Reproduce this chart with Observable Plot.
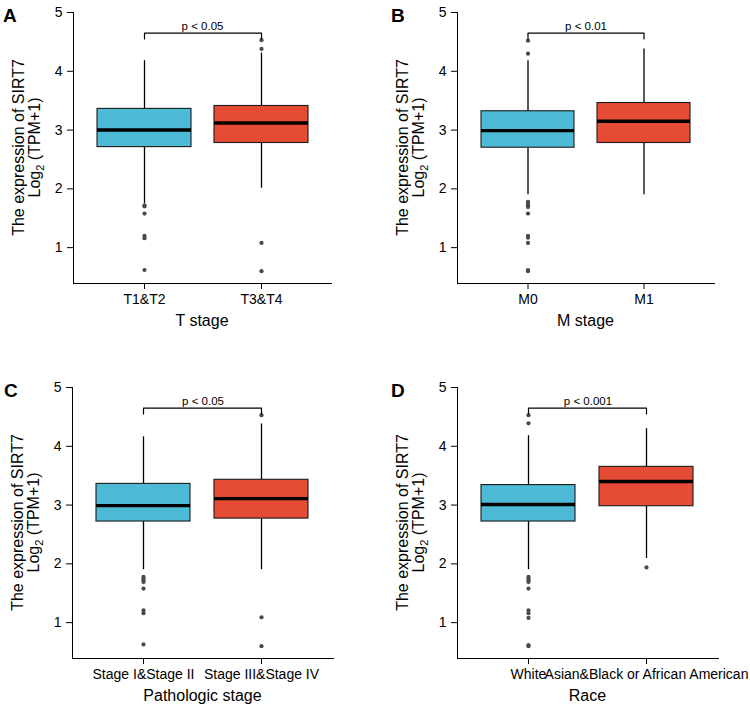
<!DOCTYPE html>
<html>
<head>
<meta charset="utf-8">
<script src="https://cdn.jsdelivr.net/npm/d3@7"></script>
<script src="https://cdn.jsdelivr.net/npm/@observablehq/plot@0.6"></script>
<style>
  body { margin: 0; background: #fff; }
  #root { position: relative; width: 750px; height: 706px; font-family: "Liberation Sans", Arial, sans-serif; }
  .panel { position: absolute; }
  .panel svg { overflow: visible; }
  .panel svg g[aria-label*="axis"] text { font-size: 14px; fill: #000; }
</style>
</head>
<body>
<div id="root"></div>
<script>
// ---------- Data ----------
const yTicks = [1, 2, 3, 4, 5];
const yDomain = [0.39, 5.0];
const groupColors = ["#4DBBD5", "#E64B35"];

// Panel A – T stage
const aGroups = ["T1&T2", "T3&T4"];
const aQ1 = [2.71, 2.78];
const aMedian = [3.00, 3.12];
const aQ3 = [3.36, 3.41];
const aLow = [1.75, 2.01];
const aHigh = [4.18, 4.31];
const aOutliers = [[1.72, 1.70, 1.58, 1.20, 1.16, 0.62], [4.53, 4.38, 1.08, 0.60]];
const aP = "p < 0.05";
const aTitle = "T stage";

// Panel B – M stage
const bGroups = ["M0", "M1"];
const bQ1 = [2.70, 2.78];
const bMedian = [2.99, 3.15];
const bQ3 = [3.32, 3.46];
const bLow = [1.90, 1.90];
const bHigh = [4.18, 4.38];
const bOutliers = [[4.52, 4.30, 1.78, 1.75, 1.72, 1.69, 1.58, 1.20, 1.17, 1.08, 0.62, 0.60], []];
const bP = "p < 0.01";
const bTitle = "M stage";

// Panel C – Pathologic stage
const cGroups = ["Stage I&Stage II", "Stage III&Stage IV"];
const cQ1 = [2.72, 2.77];
const cMedian = [2.99, 3.11];
const cQ3 = [3.36, 3.43];
const cLow = [1.90, 1.90];
const cHigh = [4.16, 4.38];
const cOutliers = [[1.78, 1.75, 1.72, 1.69, 1.58, 1.21, 1.16, 0.63], [4.53, 1.09, 0.60]];
const cP = "p < 0.05";
const cTitle = "Pathologic stage";

// Panel D – Race
const dGroups = ["White", "Asian&Black or African American"];
const dQ1 = [2.72, 2.98];
const dMedian = [3.01, 3.40];
const dQ3 = [3.34, 3.65];
const dLow = [1.90, 2.09];
const dHigh = [4.18, 4.30];
const dOutliers = [[4.53, 4.39, 1.78, 1.75, 1.72, 1.69, 1.58, 1.21, 1.16, 1.08, 0.62, 0.60], [1.94]];
const dP = "p < 0.001";
const dTitle = "Race";

// significance bracket levels (value units)
const bracketTop = 4.65;
const bracketTip = 4.55;

// ---------- Drawing ----------
const FONT = '"Liberation Sans", Arial, sans-serif';

function drawPanel(letter, groups, q1, med, q3, lo, hi, outliers, pText, xTitle, layout) {
  const boxes = groups.map((g, i) => ({group: g, q1: q1[i], med: med[i], q3: q3[i], lo: lo[i], hi: hi[i]}));
  const outs = groups.flatMap((g, i) => outliers[i].map(v => ({group: g, value: v})));
  const bracket = [
    {group: groups[0], y: bracketTip},
    {group: groups[0], y: bracketTop},
    {group: groups[1], y: bracketTop},
    {group: groups[1], y: bracketTip}
  ];

  const chart = Plot.plot({
    width: 375,
    height: layout.height,
    marginLeft: layout.ml,
    marginRight: layout.mr,
    marginTop: 12,
    marginBottom: layout.height - 283,
    style: {fontFamily: FONT, fontSize: "14px", color: "#000", background: "#fff"},
    x: {type: "band", domain: groups, padding: 0.2, tickSize: 6, tickPadding: 5, label: null, line: true},
    y: {domain: yDomain, ticks: yTicks, tickSize: 6, tickPadding: 5, label: null, line: true, tickFormat: d3.format("d")},
    color: {domain: groups, range: groupColors},
    marks: [
      Plot.ruleX(boxes, {x: "group", y1: "q3", y2: "hi", stroke: "#000", strokeWidth: 1.3}),
      Plot.ruleX(boxes, {x: "group", y1: "lo", y2: "q1", stroke: "#000", strokeWidth: 1.3}),
      Plot.barY(boxes, {x: "group", y1: "q1", y2: "q3", fill: "group", stroke: "#1a1a1a", strokeWidth: 1.1}),
      Plot.tickY(boxes, {x: "group", y: "med", stroke: "#000", strokeWidth: 3.4}),
      Plot.dot(outs, {x: "group", y: "value", r: 2.1, fill: "#4a4a4a", stroke: "none"}),
      Plot.line(bracket, {x: "group", y: "y", stroke: "#000", strokeWidth: 1.2}),
      Plot.text([pText], {y: [bracketTop], text: d => d, fontSize: 11.5, dy: -6.5, fill: "#000"})
    ]
  });

  const svg = d3.select(chart);
  const cy = (12 + 283) / 2;
  // panel letter
  svg.append("text")
    .attr("x", layout.letterX).attr("y", 22)
    .attr("text-anchor", "start")
    .attr("font-family", FONT).attr("font-size", 19).attr("font-weight", "bold")
    .attr("fill", "#000").text(letter);
  // y title line 1
  svg.append("text")
    .attr("transform", `translate(${layout.ml - 49.5},${cy}) rotate(-90)`)
    .attr("text-anchor", "middle").attr("font-family", FONT).attr("font-size", 16).attr("fill", "#000")
    .text("The expression of SIRT7");
  // y title line 2 with subscript
  const t2 = svg.append("text")
    .attr("transform", `translate(${layout.ml - 33.5},${cy}) rotate(-90)`)
    .attr("text-anchor", "middle").attr("font-family", FONT).attr("font-size", 16).attr("fill", "#000");
  t2.append("tspan").text("Log");
  t2.append("tspan").attr("dy", 4).attr("font-size", 11).text("2");
  t2.append("tspan").attr("dy", -4).text(" (TPM+1)");
  // x title
  svg.append("text")
    .attr("x", (layout.ml + 375 - layout.mr) / 2).attr("y", 326)
    .attr("text-anchor", "middle").attr("font-family", FONT).attr("font-size", 16).attr("fill", "#000")
    .text(xTitle);

  const wrap = document.createElement("div");
  wrap.className = "panel";
  wrap.style.left = layout.left + "px";
  wrap.style.top = layout.top + "px";
  wrap.appendChild(chart);
  document.getElementById("root").appendChild(wrap);
}

drawPanel("A", aGroups, aQ1, aMedian, aQ3, aLow, aHigh, aOutliers, aP, aTitle,
  {left: 0, top: 0, height: 330, ml: 73, mr: 44, letterX: 3});
drawPanel("B", bGroups, bQ1, bMedian, bQ3, bLow, bHigh, bOutliers, bP, bTitle,
  {left: 375, top: 0, height: 330, ml: 82, mr: 36, letterX: 16});
drawPanel("C", cGroups, cQ1, cMedian, cQ3, cLow, cHigh, cOutliers, cP, cTitle,
  {left: 0, top: 375, height: 331, ml: 72, mr: 42, letterX: 4});
drawPanel("D", dGroups, dQ1, dMedian, dQ3, dLow, dHigh, dOutliers, dP, dTitle,
  {left: 375, top: 375, height: 331, ml: 82, mr: 32, letterX: 16});
</script>
</body>
</html>
